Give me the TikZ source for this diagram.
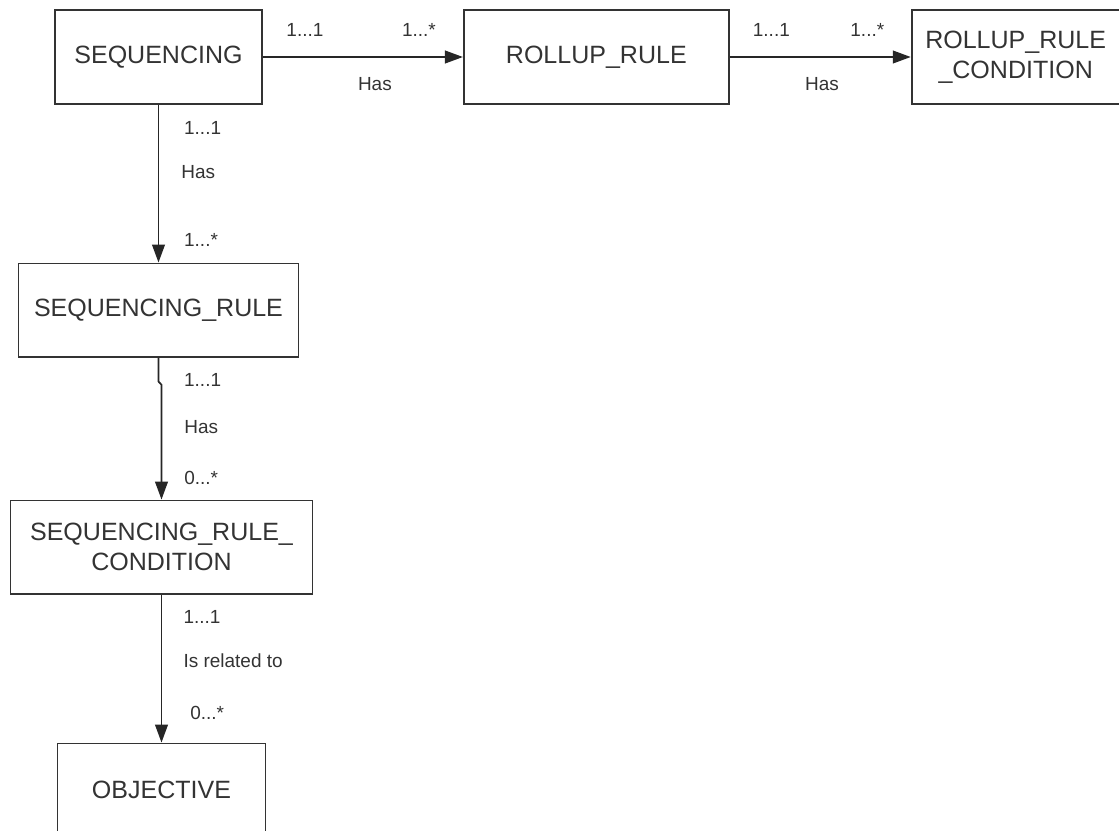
\documentclass[tikz,border=0pt]{standalone}
\usepackage{fontspec}
\setmainfont{Liberation Sans}
\usetikzlibrary{arrows.meta,positioning}

\newcommand{\entfont}{\fontsize{17.8}{21}\selectfont}
\newcommand{\relfont}{\fontsize{13.5}{16}\selectfont}

\begin{document}
\begin{tikzpicture}[
    entity/.style={draw=black!80, line width=1.3pt, minimum height=2.33cm,
                   align=center, font=\entfont, text=black!80},
    card/.style={font=\relfont, text=black!80, inner sep=0pt},
    arr/.style={-{Triangle[length=4.5mm, width=3.2mm]}, line width=1.2pt, draw=black!85}
]
\useasboundingbox (0,0) rectangle (27.975,-20.75);

\node[entity, minimum width=5.175cm] (seq) at (3.9625,-1.425) {SEQUENCING};
\node[entity, minimum width=6.625cm, right=5cm of seq] (rr) {ROLLUP\_RULE};
\node[entity, minimum width=5.2cm, right=4.525cm of rr] (rrc) {ROLLUP\_RULE\\\_CONDITION};
\node[entity, minimum width=7cm, below=3.95cm of seq] (sr) {SEQUENCING\_RULE};
\node[entity, minimum width=7.55cm, below=3.55cm of sr, xshift=0.075cm] (src) {SEQUENCING\_RULE\_\\CONDITION};
\node[entity, minimum width=5.2cm, below=3.7cm of src] (obj) {OBJECTIVE};

\draw[arr] (seq) -- (rr)
    node[card, pos=0.21, yshift=0.675cm] {1...1}
    node[card, pos=0.78, yshift=0.675cm] {1...*}
    node[card, pos=0.56, yshift=-0.675cm] {Has};
\draw[arr] (rr) -- (rrc)
    node[card, pos=0.23, yshift=0.675cm] {1...1}
    node[card, pos=0.76, yshift=0.675cm] {1...*}
    node[card, pos=0.51, yshift=-0.675cm] {Has};
\draw[arr] (seq.south) -- (sr.north)
    node[card, pos=0.15, anchor=west, xshift=0.62cm] {1...1}
    node[card, pos=0.43, anchor=west, xshift=0.55cm] {Has}
    node[card, pos=0.86, anchor=west, xshift=0.62cm] {1...*};
\draw[arr] (sr.south) -- ++(0,-0.6) node[card, pos=0.92, anchor=west, xshift=0.62cm] {1...1}
    -- ++(0.075,-0.08) -- (src.north)
    node[card, pos=0.37, anchor=west, xshift=0.55cm] {Has}
    node[card, pos=0.81, anchor=west, xshift=0.55cm] {0...*};
\draw[arr] (src.south) -- (obj.north)
    node[card, pos=0.15, anchor=west, xshift=0.53cm] {1...1}
    node[card, pos=0.45, anchor=west, xshift=0.53cm] {Is related to}
    node[card, pos=0.80, anchor=west, xshift=0.7cm] {0...*};
\end{tikzpicture}
\end{document}
